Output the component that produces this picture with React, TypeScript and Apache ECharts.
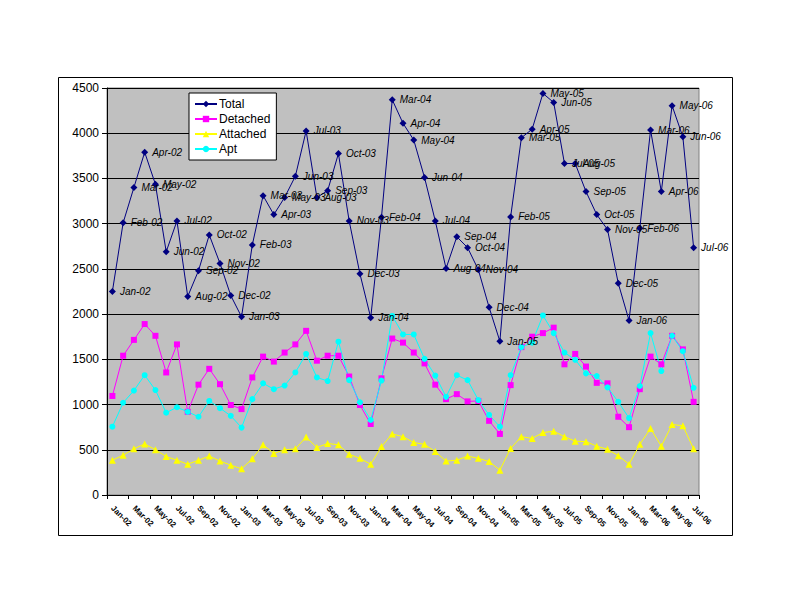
import React, { useEffect, useRef } from "react";
import * as echarts from "echarts";

const categories: string[] = [
  "Jan-02","Feb-02","Mar-02","Apr-02","May-02","Jun-02","Jul-02","Aug-02","Sep-02","Oct-02","Nov-02","Dec-02",
  "Jan-03","Feb-03","Mar-03","Apr-03","May-03","Jun-03","Jul-03","Aug-03","Sep-03","Oct-03","Nov-03","Dec-03",
  "Jan-04","Feb-04","Mar-04","Apr-04","May-04","Jun-04","Jul-04","Aug-04","Sep-04","Oct-04","Nov-04","Dec-04",
  "Jan-05","Feb-05","Mar-05","Apr-05","May-05","Jun-05","Jul-05","Aug-05","Sep-05","Oct-05","Nov-05","Dec-05",
  "Jan-06","Feb-06","Mar-06","Apr-06","May-06","Jun-06","Jul-06",
];

const total = [
  2250, 3010, 3400, 3790, 3435, 2690, 3030, 2195, 2480, 2875, 2560, 2205,
  1970, 2765, 3310, 3100, 3290, 3525, 4025, 3290, 3365, 3775, 3030, 2445,
  1960, 3070, 4370, 4110, 3925, 3510, 3030, 2505, 2855, 2735, 2490, 2075,
  1700, 3075, 3950, 4045, 4440, 4340, 3665, 3665, 3355, 3100, 2935, 2340,
  1930, 2950, 4035, 3355, 4305, 3960, 2735,
];
const detached = [
  1095, 1540, 1715, 1890, 1760, 1355, 1665, 920, 1220, 1395, 1225, 995,
  950, 1300, 1530, 1475, 1575, 1665, 1815, 1485, 1540, 1540, 1310, 995,
  785, 1290, 1730, 1685, 1575, 1455, 1220, 1060, 1115, 1035, 1040, 820,
  675, 1215, 1635, 1750, 1790, 1850, 1445, 1560, 1420, 1240, 1235, 865,
  750, 1170, 1530, 1445, 1760, 1610, 1030,
];
const attached = [
  385, 440, 510, 565, 500, 425, 385, 340, 385, 430, 375, 330,
  290, 400, 555, 460, 500, 510, 640, 525, 570, 555, 450, 405,
  340, 535, 675, 645, 580, 560, 480, 375, 385, 430, 405, 370,
  275, 515, 645, 625, 690, 705, 645, 595, 590, 540, 505, 435,
  340, 560, 735, 540, 780, 765, 510,
];
const apt = [
  755, 1020, 1155, 1325, 1160, 910, 970, 920, 865, 1040, 960, 875,
  745, 1060, 1235, 1170, 1210, 1355, 1560, 1300, 1260, 1695, 1270, 1025,
  830, 1265, 1980, 1775, 1775, 1505, 1320, 1085, 1325, 1270, 1050, 885,
  755, 1325, 1635, 1685, 1985, 1790, 1575, 1495, 1345, 1315, 1190, 1030,
  850, 1205, 1790, 1370, 1760, 1590, 1185,
];
const seriesNames = ["Total", "Detached", "Attached", "Apt"];
const yTicks = { min: 0, max: 4500, interval: 500 };

const FONT = "'Liberation Sans', Arial, sans-serif";

export default function App() {
  const ref = useRef<HTMLDivElement>(null);
  useEffect(() => {
    if (!ref.current) return;
    const chart = echarts.init(ref.current, undefined, { renderer: "svg" });
    const lineStyleBase = { width: 1 };
    chart.setOption({
      animation: false,
      backgroundColor: "#ffffff",
      textStyle: { fontFamily: FONT },
      grid: {
        left: 107,
        top: 88,
        right: 93,
        bottom: 117,
        show: true,
        backgroundColor: "#C0C0C0",
        borderColor: "#808080",
        borderWidth: 1,
      },
      graphic: [
        {
          type: "rect",
          shape: { x: 58.5, y: 77.5, width: 674, height: 458 },
          style: { fill: "none", stroke: "#000000", lineWidth: 1 },
          silent: true,
          z: -1,
        },
      ],
      legend: {
        data: seriesNames,
        orient: "vertical",
        left: 189,
        top: 93,
        backgroundColor: "#ffffff",
        borderColor: "#000000",
        borderWidth: 1,
        padding: [4, 6, 4, 5],
        itemGap: 1,
        itemWidth: 22,
        itemHeight: 8,
        textStyle: { fontSize: 12, color: "#000", fontFamily: FONT, lineHeight: 14, padding: [0, 0, 0, -3] },
      },
      xAxis: {
        type: "category",
        data: categories,
        boundaryGap: true,
        axisLine: { lineStyle: { color: "#000", width: 1 } },
        axisTick: { show: true, interval: 1, length: 4, lineStyle: { color: "#000" } },
        axisLabel: {
          interval: 1,
          rotate: -45,
          fontSize: 8,
          fontWeight: "bold",
          color: "#000",
          fontFamily: FONT,
          margin: 12,
        },
        splitLine: { show: false },
      },
      yAxis: {
        type: "value",
        min: yTicks.min,
        max: yTicks.max,
        interval: yTicks.interval,
        axisLine: { show: true, lineStyle: { color: "#000", width: 1 } },
        axisTick: { show: true, length: 5, lineStyle: { color: "#000" } },
        axisLabel: {
          fontSize: 12,
          color: "#000",
          fontFamily: FONT,
          margin: 8,
          formatter: (v: number) => String(v),
        },
        splitLine: { show: true, lineStyle: { color: "#000", width: 1 } },
      },
      series: [
        {
          name: "Total",
          type: "line",
          data: total,
          color: "#000080",
          symbol: "diamond",
          symbolSize: 7,
          lineStyle: { ...lineStyleBase, color: "#000080" },
          itemStyle: { color: "#000080" },
          label: {
            show: true,
            position: "right",
            distance: 4,
            formatter: "{b}",
            fontSize: 10,
            fontStyle: "italic",
            color: "#000",
            fontFamily: FONT,
          },
          z: 5,
        },
        {
          name: "Detached",
          type: "line",
          data: detached,
          color: "#FF00FF",
          symbol: "rect",
          symbolSize: 6,
          lineStyle: { ...lineStyleBase, color: "#FF00FF" },
          itemStyle: { color: "#FF00FF" },
        },
        {
          name: "Attached",
          type: "line",
          data: attached,
          color: "#FFFF00",
          symbol: "triangle",
          symbolSize: 7,
          lineStyle: { ...lineStyleBase, color: "#FFFF00" },
          itemStyle: { color: "#FFFF00" },
        },
        {
          name: "Apt",
          type: "line",
          data: apt,
          color: "#00FFFF",
          symbol: "circle",
          symbolSize: 6,
          lineStyle: { ...lineStyleBase, color: "#00FFFF" },
          itemStyle: { color: "#00FFFF" },
        },
      ],
    });
    return () => chart.dispose();
  }, []);
  return (
    <div
      ref={ref}
      style={{ position: "fixed", left: 0, top: 0, width: 792, height: 612, background: "#fff" }}
    />
  );
}
